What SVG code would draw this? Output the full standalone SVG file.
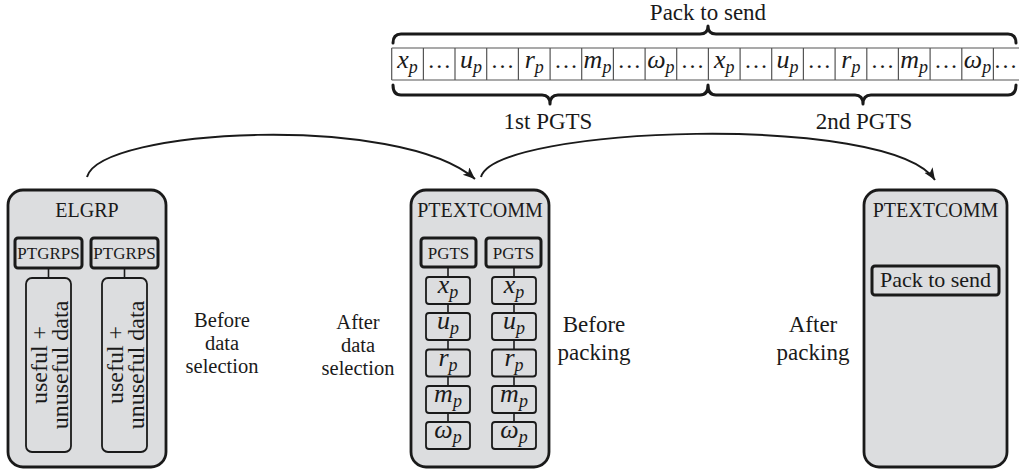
<svg xmlns="http://www.w3.org/2000/svg" width="1019" height="473" viewBox="0 0 1019 473">
<style>
text{font-family:"Liberation Serif","Times New Roman",serif;fill:#1a1a1a}
.outer{fill:#dcdddf;stroke:#1a1a1a;stroke-width:2.8}
.hdr{fill:#dcdddf;stroke:#1a1a1a;stroke-width:3}
.box{fill:#dcdddf;stroke:#1a1a1a;stroke-width:1.8}
.title{font-size:20px;text-anchor:middle}
.small{font-size:17px;text-anchor:middle}
.lbl{font-size:23px;text-anchor:middle}
.side{font-size:20.5px;text-anchor:middle}
.m{font-size:26px;font-style:italic;text-anchor:middle}
.sub{font-size:18px}
.dots{font-size:24px;text-anchor:middle}
.grid{fill:none;stroke:#555;stroke-width:1.2}
.brace{fill:none;stroke:#1a1a1a;stroke-width:3;stroke-linecap:round;stroke-linejoin:round}
.arc{fill:none;stroke:#1a1a1a;stroke-width:2}
.link{stroke:#1a1a1a;stroke-width:1.6}
</style>
<defs>
<marker id="ah" markerUnits="userSpaceOnUse" markerWidth="14" markerHeight="12" refX="12" refY="5" orient="auto">
<path d="M0,0 L12,5 L0,10 L3,5 z" fill="#1a1a1a"/>
</marker>
</defs>

<g id="pack-strip">
<text class="lbl" x="708" y="20">Pack to send</text>
<path class="brace" d="M393,43 Q393,34 401,34 L700,34 Q708,34 708,26 Q708,34 716,34 L1008,34 Q1016,34 1016,43"/>
<path class="grid" d="M391.7,48 H1019 M391.7,80 H1019 M391.7,48 V80 M423.4,48 V80 M455,48 V80 M486.7,48 V80 M518.4,48 V80 M550.1,48 V80 M581.7,48 V80 M613.4,48 V80 M645.1,48 V80 M676.7,48 V80 M708.4,48 V80 M740.1,48 V80 M771.7,48 V80 M803.4,48 V80 M835.1,48 V80 M866.8,48 V80 M898.4,48 V80 M930.1,48 V80 M961.8,48 V80 M993.4,48 V80"/>
<text class="m" x="407.5" y="68">x<tspan class="sub" dy="5">p</tspan></text>
<text class="dots" x="439.2" y="68">…</text>
<text class="m" x="470.9" y="68">u<tspan class="sub" dy="5">p</tspan></text>
<text class="dots" x="502.5" y="68">…</text>
<text class="m" x="534.2" y="68">r<tspan class="sub" dy="5">p</tspan></text>
<text class="dots" x="565.9" y="68">…</text>
<text class="m" x="597.5" y="68">m<tspan class="sub" dy="5">p</tspan></text>
<text class="dots" x="629.2" y="68">…</text>
<text class="m" x="660.9" y="68">ω<tspan class="sub" dy="5">p</tspan></text>
<text class="dots" x="692.5" y="68">…</text>
<text class="m" x="724.2" y="68">x<tspan class="sub" dy="5">p</tspan></text>
<text class="dots" x="755.9" y="68">…</text>
<text class="m" x="787.5" y="68">u<tspan class="sub" dy="5">p</tspan></text>
<text class="dots" x="819.2" y="68">…</text>
<text class="m" x="850.9" y="68">r<tspan class="sub" dy="5">p</tspan></text>
<text class="dots" x="882.5" y="68">…</text>
<text class="m" x="914.2" y="68">m<tspan class="sub" dy="5">p</tspan></text>
<text class="dots" x="945.9" y="68">…</text>
<text class="m" x="977.5" y="68">ω<tspan class="sub" dy="5">p</tspan></text>
<text class="dots" x="1005.5" y="68">…</text>
<path class="brace" d="M393,85 Q393,95 401,95 L542,95 Q550,95 550,104 Q550,95 558,95 L700,95 Q708,95 708,85 Q708,95 716,95 L855,95 Q863,95 863,104 Q863,95 871,95 L1008,95 Q1016,95 1016,85"/>
<text class="lbl" x="548" y="129">1st PGTS</text>
<text class="lbl" x="864" y="129">2nd PGTS</text>
</g>

<g id="elgrp">
<rect class="outer" x="8" y="190" width="158" height="277" rx="15"/>
<text class="title" x="87" y="217">ELGRP</text>
<rect class="hdr" x="15" y="238" width="67" height="30" rx="3"/>
<text class="small" x="48.5" y="259">PTGRPS</text>
<rect class="hdr" x="91" y="238" width="67" height="30" rx="3"/>
<text class="small" x="124.5" y="259">PTGRPS</text>
<rect class="box" x="26" y="278" width="45" height="174" rx="6"/>
<text class="lbl" transform="translate(47,365) rotate(-90)" style="font-size:24px"><tspan x="0" y="0">useful +</tspan><tspan x="0" y="21">unuseful data</tspan></text>
<rect class="box" x="102" y="278" width="45" height="174" rx="6"/>
<text class="lbl" transform="translate(123,365) rotate(-90)" style="font-size:24px"><tspan x="0" y="0">useful +</tspan><tspan x="0" y="21">unuseful data</tspan></text>
</g>

<g id="label-before-selection">
<text class="side"><tspan x="222" y="327">Before</tspan><tspan x="222" y="350">data</tspan><tspan x="222" y="373">selection</tspan></text>
</g>

<g id="label-after-selection">
<text class="side"><tspan x="358" y="329">After</tspan><tspan x="358" y="352">data</tspan><tspan x="358" y="375">selection</tspan></text>
</g>

<g id="ptextcomm-1">
<rect class="outer" x="411" y="190" width="138" height="277" rx="15"/>
<text class="title" x="480" y="217">PTEXTCOMM</text>
<rect class="hdr" x="421" y="238" width="55" height="29" rx="3"/>
<text class="small" x="448.5" y="258.5">PGTS</text>
<rect class="hdr" x="486" y="238" width="55" height="29" rx="3"/>
<text class="small" x="513.5" y="258.5">PGTS</text>
<rect class="box" x="426" y="277" width="44" height="27" rx="3"/>
<text class="m" x="448" y="293">x<tspan class="sub" dy="5">p</tspan></text>
<rect class="box" x="426" y="313" width="44" height="27" rx="3"/>
<text class="m" x="448" y="329">u<tspan class="sub" dy="5">p</tspan></text>
<rect class="box" x="426" y="349.5" width="44" height="27" rx="3"/>
<text class="m" x="448" y="365.5">r<tspan class="sub" dy="5">p</tspan></text>
<rect class="box" x="426" y="386" width="44" height="27" rx="3"/>
<text class="m" x="448" y="402">m<tspan class="sub" dy="5">p</tspan></text>
<rect class="box" x="426" y="422" width="44" height="27" rx="3"/>
<text class="m" x="448" y="438">ω<tspan class="sub" dy="5">p</tspan></text>
<rect class="box" x="492" y="277" width="44" height="27" rx="3"/>
<text class="m" x="514" y="293">x<tspan class="sub" dy="5">p</tspan></text>
<rect class="box" x="492" y="313" width="44" height="27" rx="3"/>
<text class="m" x="514" y="329">u<tspan class="sub" dy="5">p</tspan></text>
<rect class="box" x="492" y="349.5" width="44" height="27" rx="3"/>
<text class="m" x="514" y="365.5">r<tspan class="sub" dy="5">p</tspan></text>
<rect class="box" x="492" y="386" width="44" height="27" rx="3"/>
<text class="m" x="514" y="402">m<tspan class="sub" dy="5">p</tspan></text>
<rect class="box" x="492" y="422" width="44" height="27" rx="3"/>
<text class="m" x="514" y="438">ω<tspan class="sub" dy="5">p</tspan></text>
</g>

<g id="label-before-packing">
<text class="lbl"><tspan x="594" y="332">Before</tspan><tspan x="594" y="360">packing</tspan></text>
</g>

<g id="label-after-packing">
<text class="lbl"><tspan x="813" y="332">After</tspan><tspan x="813" y="360">packing</tspan></text>
</g>

<g id="ptextcomm-2">
<rect class="outer" x="864" y="190" width="143" height="277" rx="15"/>
<text class="title" x="935.5" y="217">PTEXTCOMM</text>
<rect class="hdr" x="872" y="266" width="127" height="29" rx="3"/>
<text class="lbl" x="935.5" y="287" style="font-size:22px">Pack to send</text>
</g>

<g id="connectors">
<line class="link" x1="48.5" y1="268" x2="48.5" y2="278"/>
<line class="link" x1="124.5" y1="268" x2="124.5" y2="278"/>
<line class="link" x1="448" y1="267" x2="448" y2="277"/>
<line class="link" x1="448" y1="304" x2="448" y2="313"/>
<line class="link" x1="448" y1="340" x2="448" y2="349.5"/>
<line class="link" x1="448" y1="376.5" x2="448" y2="386"/>
<line class="link" x1="448" y1="413" x2="448" y2="422"/>
<line class="link" x1="514" y1="267" x2="514" y2="277"/>
<line class="link" x1="514" y1="304" x2="514" y2="313"/>
<line class="link" x1="514" y1="340" x2="514" y2="349.5"/>
<line class="link" x1="514" y1="376.5" x2="514" y2="386"/>
<line class="link" x1="514" y1="413" x2="514" y2="422"/>
<path class="arc" d="M87,177 C100,128 400,113 475,179" marker-end="url(#ah)"/>
<path class="arc" d="M481,177 C495,126 890,112 935,180" marker-end="url(#ah)"/>
</g>
</svg>
